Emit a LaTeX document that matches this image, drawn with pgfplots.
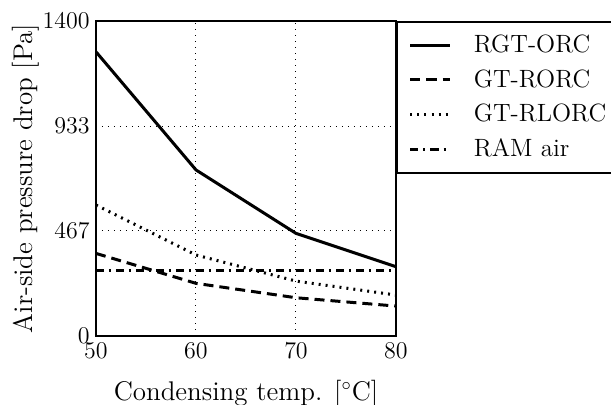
\documentclass[border=0pt]{standalone}
\usepackage{pgfplots}
\pgfplotsset{compat=1.18}
\begin{document}
\begin{tikzpicture}
\begin{axis}[
  width=150pt, height=157.5pt, scale only axis,
  xmin=50, xmax=80, ymin=0, ymax=1400,
  xtick={50,60,70,80}, ytick={0,467,933,1400},
  /pgf/number format/1000 sep={},
  major tick length=0pt,
  grid=major, major grid style={black, line width=0.5pt, dash pattern=on 0.6pt off 2.4pt},
  axis line style={line width=1pt},
  tick label style={font=\fontsize{13}{15}\selectfont},
  yticklabel style={inner xsep=3pt},
  label style={font=\fontsize{13.5}{16}\selectfont},
  xlabel={Condensing temp. [$^\circ$C]},
  xlabel shift=4pt,
  ylabel={Air-side pressure drop [Pa]},
  ylabel shift=-5pt,
  legend cell align=left,
  legend style={at={(1,1)}, anchor=north west, draw=black, line width=1pt,
    font=\fontsize{12.5}{15}\selectfont, inner xsep=6pt, inner ysep=4.5pt, row sep=3pt,
    /tikz/every odd column/.append style={column sep=9pt}},
  legend image code/.code={\draw[#1] plot coordinates {(0cm,0cm) (0.7cm,0cm)};},
  every axis plot/.append style={black, line width=1.5pt},
]
\addplot[solid] coordinates {(50,1263) (60,738) (70,456) (80,308)};
\addlegendentry{RGT-ORC}
\addplot[dash pattern=on 5pt off 3pt] coordinates {(50,367) (60,234) (70,170) (80,133)};
\addlegendentry{GT-RORC}
\addplot[dash pattern=on 1pt off 2.5pt] coordinates {(50,582) (60,360) (70,244) (80,182)};
\addlegendentry{GT-RLORC}
\addplot[dash pattern=on 4pt off 2.5pt on 1pt off 2.5pt] coordinates {(50,293) (60,293) (70,293) (80,293)};
\addlegendentry{RAM air}
\end{axis}
\pgfresetboundingbox
\path (-48pt,-34.5pt) rectangle (257.5pt,168pt);
\end{tikzpicture}
\end{document}
